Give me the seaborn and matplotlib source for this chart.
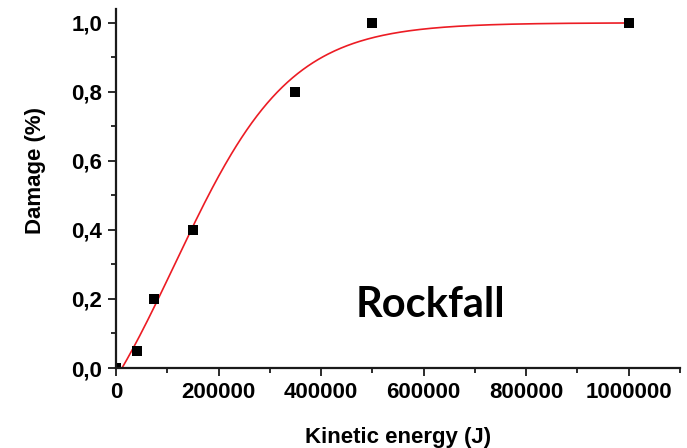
import numpy as np
import pandas as pd
import matplotlib
matplotlib.use("Agg")
import matplotlib.pyplot as plt
from matplotlib.ticker import MultipleLocator, FuncFormatter
import seaborn as sns

# Observed damage ratios against impact kinetic energy
energy_j = [0, 40000, 75000, 150000, 350000, 500000, 1000000]
damage = [0.0, 0.05, 0.2, 0.4, 0.8, 1.0, 1.0]

# Boltzmann-type fitted vulnerability curve: y = A2 + (A1 - A2) / (1 + exp((x - x0) / dx))
fit_a1 = -0.4
fit_a2 = 1.0
fit_x0 = 114400.0
fit_dx = 112000.0
fit_start = 9000
fit_end = 1000000

x_ticks = [0, 200000, 400000, 600000, 800000, 1000000]
y_ticks = [0.0, 0.2, 0.4, 0.6, 0.8, 1.0]

sns.set_style("ticks")
plt.rcParams["font.family"] = ["Liberation Sans", "DejaVu Sans"]
plt.rcParams["text.color"] = "black"
plt.rcParams["axes.labelcolor"] = "black"
plt.rcParams["xtick.color"] = "black"
plt.rcParams["ytick.color"] = "black"

fig = plt.figure(figsize=(6.87, 4.48), dpi=100)
ax = fig.add_axes([116 / 687, 80 / 448, 564 / 687, 359 / 448])

xs = np.linspace(fit_start, fit_end, 400)
ys = fit_a2 + (fit_a1 - fit_a2) / (1 + np.exp((xs - fit_x0) / fit_dx))
curve = pd.DataFrame({"energy": xs, "damage": ys})
obs = pd.DataFrame({"energy": energy_j, "damage": damage})

sns.lineplot(data=curve, x="energy", y="damage", ax=ax, color="#ec1c24",
             linewidth=1.2, zorder=2)
sns.scatterplot(data=obs, x="energy", y="damage", ax=ax, marker="s", s=42,
                color="black", linewidth=0, zorder=2.2)

ax.set_xlim(0, 1100000)
ax.set_ylim(0, 1.04)
ax.set_xticks(x_ticks)
ax.set_yticks(y_ticks)
ax.xaxis.set_minor_locator(MultipleLocator(100000))
ax.yaxis.set_minor_locator(MultipleLocator(0.1))
ax.yaxis.set_major_formatter(FuncFormatter(lambda v, p: f"{v:.1f}".replace(".", ",")))
ax.xaxis.set_major_formatter(FuncFormatter(lambda v, p: f"{int(round(v))}"))

sns.despine(ax=ax)
for side in ("left", "bottom"):
    ax.spines[side].set_linewidth(1.6)
    ax.spines[side].set_color("#1a1a1a")
ax.tick_params(which="major", length=6, width=1.3, color="#1a1a1a",
               labelsize=16, pad=4)
ax.tick_params(which="minor", length=3.5, width=1.3, color="#1a1a1a")
for lab in ax.get_xticklabels() + ax.get_yticklabels():
    lab.set_fontweight("bold")

ax.set_xlabel("Kinetic energy (J)", fontsize=16, fontweight="bold")
ax.set_ylabel("Damage (%)", fontsize=16, fontweight="bold")
ax.xaxis.set_label_coords(0.5, -0.165)
ax.yaxis.set_label_coords(-0.125, 0.55)

ax.text(430 / 687, 1 - 305 / 448, "Rockfall", transform=fig.transFigure,
        ha="center", va="center", fontsize=30, fontweight="bold",
        family=["Lato", "DejaVu Sans"])

fig.savefig("out.png", dpi=100, facecolor="white")
